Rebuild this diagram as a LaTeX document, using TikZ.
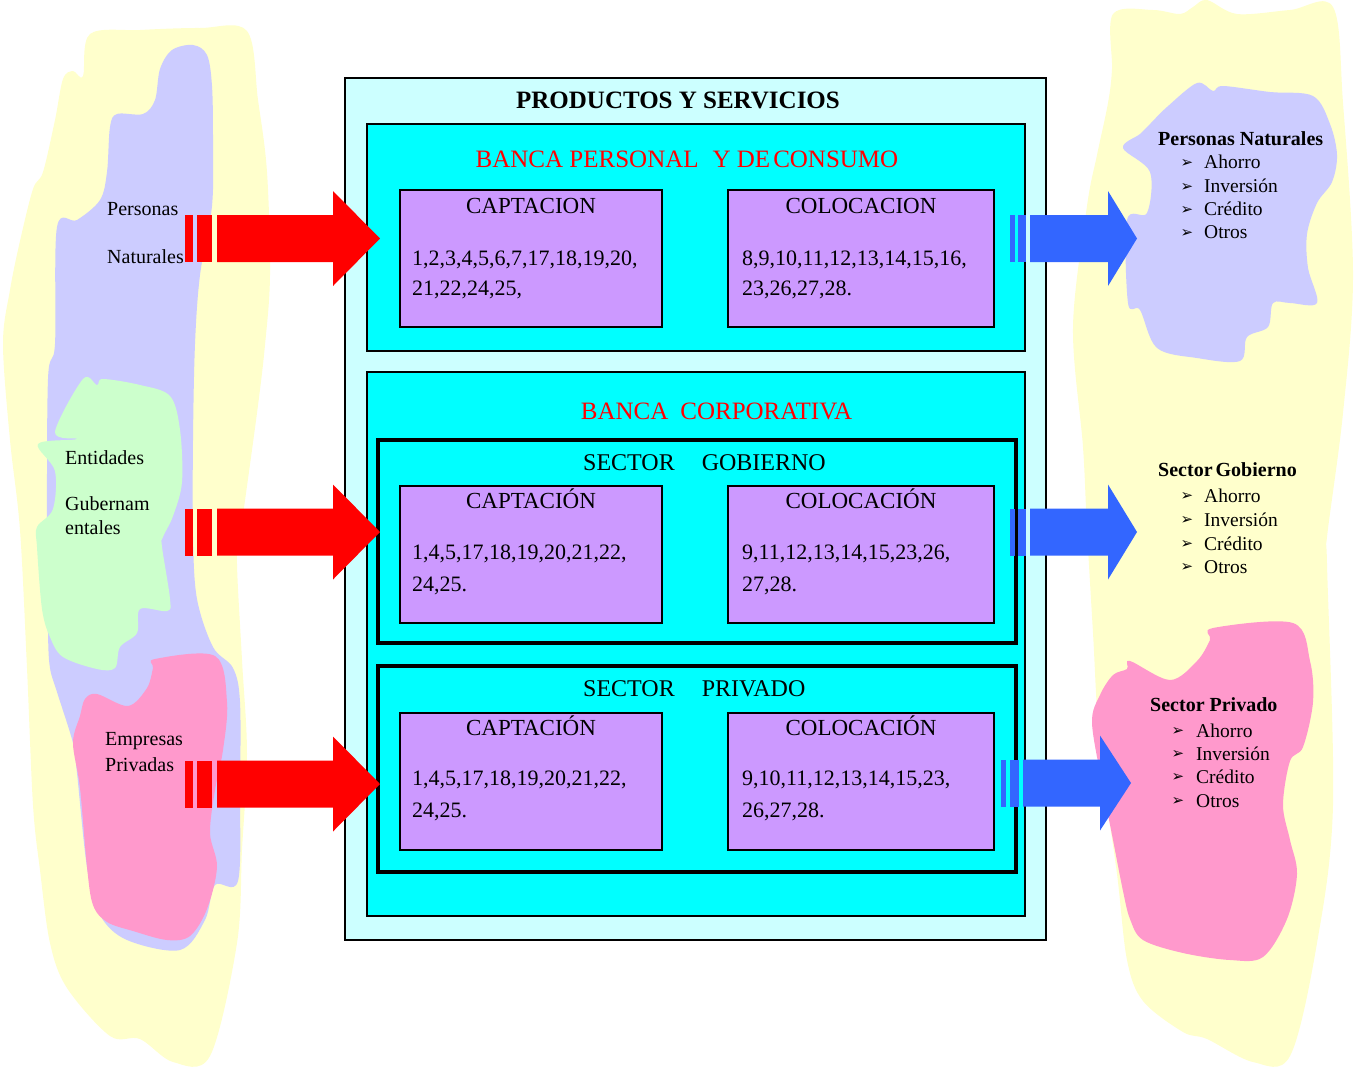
\documentclass[tikz,border=0pt]{standalone}
\usepackage{fontspec}
\setmainfont{Liberation Serif}
\newfontfamily\bulletfont{DejaVu Sans}

\definecolor{paleyellow}{HTML}{FFFFCC}
\definecolor{lavblob}{HTML}{CCCCFF}
\definecolor{mintblob}{HTML}{CCFFCC}
\definecolor{pinkblob}{HTML}{FF99CC}
\definecolor{palecyan}{HTML}{CCFFFF}
\definecolor{aqua}{HTML}{00FFFF}
\definecolor{lilac}{HTML}{CC99FF}
\definecolor{arrowblue}{HTML}{3366FF}

\newcommand\fsz[1]{\fontsize{#1}{#1}\selectfont}

% striped block arrow: #1 options, #2 y centre,
% #3/#4 first stripe, #5/#6 second stripe, #7 body start, #8 head base, #9 tip
\newcommand\stripedarrow[9][]{%
  \fill[#1] (#3,#2-23.5) rectangle (#4,#2+23.5);
  \fill[#1] (#5,#2-23.5) rectangle (#6,#2+23.5);
  \fill[#1] (#7,#2-23.5) -- (#8,#2-23.5) -- (#8,#2-47.5) -- (#9,#2)
            -- (#8,#2+47.5) -- (#8,#2+23.5) -- (#7,#2+23.5) -- cycle;
}

\tikzset{
  frame/.style={draw=black, line width=2pt, inner sep=0pt},
  panel/.style={frame, fill=aqua},
  sectorbox/.style={draw=black, line width=4.5pt, fill=aqua, inner sep=0pt, minimum width=638pt},
  itembox/.style={draw=black, line width=2.5pt, fill=lilac, inner sep=0pt, minimum height=137pt},
  boxtitle/.style={inner sep=0pt, anchor=base, font=\fsz{23}},
  numline/.style={inner sep=0pt, anchor=base west, font=\fsz{22}},
  redtitle/.style={inner sep=0pt, anchor=base, text=red, font=\fsz{25}},
  sidelabel/.style={inner sep=0pt, anchor=base west, font=\fsz{20}},
  sidehead/.style={inner sep=0pt, anchor=base west, font=\bfseries\fsz{20}},
  sideitem/.style={inner sep=0pt, anchor=base west, font=\fsz{19.5}},
  bul/.style={inner sep=0pt, anchor=center, font=\bulletfont\fsz{15}},
  blob/.style={smooth cycle, tension=0.55},
}

\begin{document}
\begin{tikzpicture}[x=1pt, y=-1pt]
\useasboundingbox (0,0) rectangle (1356,1066);
\fill[white] (0,0) rectangle (1356,1066);

% ---------- left-hand clients ----------
\fill[paleyellow] plot[blob] coordinates {
  (90,34) (140,30) (200,28) (247,31) (258,100) (267,172) (270,275) (265,345)
  (257,413) (240,537) (237,564) (242,660) (247,754) (242,850) (237,943)
  (210,1056) (173,1062) (140,1039) (110,1036) (67,988) (50,943) (40,870)
  (33,805) (27,668) (20,530) (10,440) (3,344) (10,290) (20,241) (33,189)
  (43,172) (55,120) (63,79) (73,71) (83,76)};
\fill[lavblob] plot[blob] coordinates {
  (160,69) (172,50) (193,45) (207,55) (212,86) (213,140) (212,206) (200,275)
  (195,344) (193,440) (193,537) (197,599) (213,647) (233,668) (240,702)
  (240,790) (238,881) (215,885) (205,920) (180,950) (127,940) (100,915)
  (87,867) (77,773) (73,743) (57,692) (50,668) (48,633) (47,537) (48,379)
  (55,344) (57,227) (77,220) (100,200) (107,172) (110,127) (117,114)
  (143,114) (155,100)};
\fill[mintblob] plot[blob] coordinates {
  (83,379) (97,385) (103,379) (140,385) (170,396) (180,430) (182,482)
  (173,516) (163,537) (162,547) (170,599) (167,611) (140,609) (137,633)
  (120,647) (115,668) (97,669) (63,657) (50,637) (42,609) (37,547) (37,527)
  (53,509) (55,471) (38,444) (77,439) (55,432)};
\fill[pinkblob] plot[blob] coordinates {
  (153,668) (155,659) (215,656) (227,702) (223,750) (215,790) (210,833)
  (217,867) (207,909) (190,936) (167,940) (133,931) (107,922) (93,905)
  (87,867) (80,788) (73,743) (80,716) (85,699) (97,694) (128,706) (147,688)};

\node[sidelabel] (pn1) at (107,215) {Personas};
\node[sidelabel] (pn2) at (107,263) {Naturales};
\node[sidelabel] (eg1) at (65,464.5) {Entidades};
\node[sidelabel] (eg2) at (65,510) {Gubernam};
\node[sidelabel] (eg3) at (65,534) {entales};
\node[sidelabel] (ep1) at (105,745) {Empresas};
\node[sidelabel] (ep2) at (105,771) {Privadas};

% ---------- right-hand markets ----------
\fill[paleyellow] plot[blob] coordinates {
  (1113,14) (1153,10) (1180,14) (1193,7) (1207,0) (1237,14) (1290,10)
  (1333,7) (1343,103) (1353,275) (1343,413) (1327,537) (1327,564)
  (1333,805) (1317,943) (1290,1056) (1253,1062) (1207,1039) (1183,1032)
  (1143,1001) (1127,960) (1117,874) (1100,750) (1093,633) (1087,530)
  (1083,447) (1073,327) (1087,206) (1097,155) (1108,103) (1112,69)};
\fill[lavblob] plot[blob] coordinates {
  (1167,107) (1197,83) (1213,91) (1223,86) (1270,92) (1313,96) (1330,124)
  (1337,155) (1332,182) (1317,203) (1307,234) (1308,268) (1317,303)
  (1290,303) (1273,303) (1268,327) (1247,337) (1240,361) (1197,358)
  (1157,348) (1140,310) (1128,303) (1127,220) (1147,213) (1150,172)
  (1123,148) (1140,134) (1150,124)};
\fill[pinkblob] plot[blob] coordinates {
  (1210,640) (1213,628) (1293,623) (1310,661) (1313,702) (1303,747)
  (1290,761) (1283,805) (1290,840) (1297,874) (1287,919) (1263,957)
  (1230,960) (1183,953) (1143,940) (1130,919) (1123,891) (1113,840)
  (1103,788) (1092,723) (1100,695) (1113,675) (1127,669) (1130,661)
  (1170,680) (1197,661)};

\node[sidehead] (hPN) at (1158,145) {Personas Naturales};
\node[bul] (b11) at (1187,163) {➢}; \node[sideitem] (i11) at (1204,168.6) {Ahorro};
\node[bul] (b12) at (1187,187) {➢}; \node[sideitem] (i12) at (1204,192.7) {Inversión};
\node[bul] (b13) at (1187,210) {➢}; \node[sideitem] (i13) at (1204,215) {Crédito};
\node[bul] (b14) at (1187,233) {➢}; \node[sideitem] (i14) at (1204,238.5) {Otros};

\node[sidehead] (hSG) at (1158,476.6) {Sector\hspace{3pt}Gobierno};
\node[bul] (b21) at (1187,496) {➢}; \node[sideitem] (i21) at (1204,502) {Ahorro};
\node[bul] (b22) at (1187,520.5) {➢}; \node[sideitem] (i22) at (1204,526.5) {Inversión};
\node[bul] (b23) at (1187,544) {➢}; \node[sideitem] (i23) at (1204,550) {Crédito};
\node[bul] (b24) at (1187,567) {➢}; \node[sideitem] (i24) at (1204,573) {Otros};

\node[sidehead] (hSP) at (1150,711) {Sector Privado};
\node[bul] (b31) at (1178,731) {➢}; \node[sideitem] (i31) at (1196,737) {Ahorro};
\node[bul] (b32) at (1178,754) {➢}; \node[sideitem] (i32) at (1196,760) {Inversión};
\node[bul] (b33) at (1178,777) {➢}; \node[sideitem] (i33) at (1196,783) {Crédito};
\node[bul] (b34) at (1178,801) {➢}; \node[sideitem] (i34) at (1196,807) {Otros};

% ---------- products and services ----------
\node[frame, fill=palecyan, minimum width=701pt, minimum height=862pt] (prod) at (695.5,509) {};
\node[font=\bfseries\fsz{25}, inner sep=0pt, anchor=base] (prodT) at (678,108) {PRODUCTOS Y SERVICIOS};

\node[panel, minimum width=658pt, minimum height=227pt] (bpc) at (696,237.5) {};
\node[redtitle] (bpcT) at (687,167) {BANCA PERSONAL\hspace{14pt}Y DE\hspace{3pt}CONSUMO};
\node[itembox, minimum width=262pt] (bpcCap) at (531,258.5) {};
\node[itembox, minimum width=266pt] (bpcCol) at (861,258.5) {};
\node[boxtitle] at (531,213) {CAPTACION};
\node[boxtitle] at (861,213) {COLOCACION};
\node[numline] at (412,265) {1,2,3,4,5,6,7,17,18,19,20,};
\node[numline] at (412,295) {21,22,24,25,};
\node[numline] at (742,265) {8,9,10,11,12,13,14,15,16,};
\node[numline] at (742,295) {23,26,27,28.};

\node[panel, minimum width=658pt, minimum height=544pt] (bc) at (696,644) {};
\node[redtitle] (bcT) at (716.5,419.5) {BANCA\hspace{12pt}CORPORATIVA};

\node[sectorbox, minimum height=203pt] (sg) at (697,541.5) {};
\node[inner sep=0pt, anchor=base west, font=\fsz{24}] (sgT) at (583,470.7) {SECTOR\hspace{27pt}GOBIERNO};
\node[itembox, minimum width=262pt] (sgCap) at (531,554.5) {};
\node[itembox, minimum width=266pt] (sgCol) at (861,554.5) {};
\node[boxtitle] at (531,508) {CAPTACIÓN};
\node[boxtitle] at (861,508) {COLOCACIÓN};
\node[numline] at (412,559) {1,4,5,17,18,19,20,21,22,};
\node[numline] at (412,591) {24,25.};
\node[numline] at (742,559) {9,11,12,13,14,15,23,26,};
\node[numline] at (742,591) {27,28.};

\node[sectorbox, minimum height=206pt] (sp) at (697,769) {};
\node[inner sep=0pt, anchor=base west, font=\fsz{24}] (spT) at (583,696.7) {SECTOR\hspace{27pt}PRIVADO};
\node[itembox, minimum width=262pt] (spCap) at (531,781.5) {};
\node[itembox, minimum width=266pt] (spCol) at (861,781.5) {};
\node[boxtitle] at (531,735) {CAPTACIÓN};
\node[boxtitle] at (861,735) {COLOCACIÓN};
\node[numline] at (412,785) {1,4,5,17,18,19,20,21,22,};
\node[numline] at (412,817) {24,25.};
\node[numline] at (742,785) {9,10,11,12,13,14,15,23,};
\node[numline] at (742,817) {26,27,28.};

% ---------- flows: clients in, products out ----------
\stripedarrow[red]{238.5}{185}{193}{197}{212}{217}{333}{380}
\stripedarrow[red]{532}{185}{193}{197}{212}{217}{333}{380}
\stripedarrow[red]{784}{185}{193}{197}{212}{217}{333}{380}

\stripedarrow[arrowblue]{238.5}{1010}{1015}{1018}{1026}{1030}{1108}{1137}
\stripedarrow[arrowblue]{532}{1010}{1015}{1018}{1026}{1030}{1108}{1137}
\stripedarrow[arrowblue]{783}{1001}{1006}{1010}{1019}{1023}{1100}{1131}
\end{tikzpicture}
\end{document}
